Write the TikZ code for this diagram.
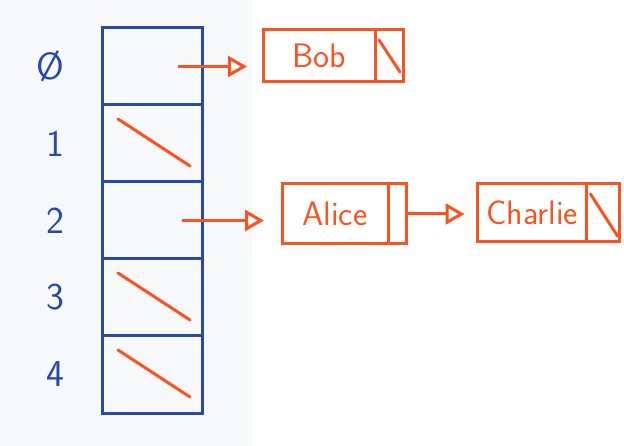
\documentclass[tikz,border=0pt]{standalone}
\usepackage{tikz}
\usetikzlibrary{positioning}
\usetikzlibrary{arrows.meta}
\usepackage{xcolor}

\definecolor{inkblue}{RGB}{40,72,170}
\definecolor{inkred}{RGB}{250,82,32}
\definecolor{panel}{RGB}{247,248,250}

\tikzset{
  cell/.style={draw=inkblue, line width=3pt, minimum width=100pt, minimum height=77pt, inner sep=0pt, outer sep=0pt},
  idx/.style={text=inkblue, font=\sffamily\fontsize{38}{38}\selectfont},
  item/.style={draw=inkred, line width=3pt, inner sep=0pt, outer sep=0pt, text=inkred, font=\sffamily\fontsize{34}{34}\selectfont},
  ptr/.style={draw=inkred, line width=3pt, inner sep=0pt, outer sep=0pt},
  link/.style={draw=inkred, line width=3pt, -{Triangle[open, length=19pt, width=21pt]}},
  nil/.style={draw=inkred, line width=3pt, line cap=round}
}

\begin{document}
\begin{tikzpicture}[x=1pt, y=-1pt]
  \useasboundingbox (0,0) rectangle (624,446);
  \fill[panel] (0,0) rectangle (252,446);

  % the table: five buckets with their indices
  \foreach \i/\y in {0/66.5, 1/143.5, 2/220.5, 3/297.5, 4/374.5} {
    \node[cell] (c\i) at (152,\y) {};
  }
  \node[idx, left=34pt of c0] (i0) {Ø};
  \foreach \i in {1,...,4} {
    \node[idx, left=34pt of c\i] (i\i) {\i};
  }

  % empty buckets
  \foreach \i in {1,3,4} {
    \draw[nil] ([shift={(16,14)}]c\i.north west) -- ([shift={(-12,-16)}]c\i.south east);
  }

  % chain of bucket 0
  \node[item, minimum width=112pt, minimum height=52pt] (bob) at (319,56) {Bob};
  \node[ptr, minimum width=28pt, minimum height=52pt, right=0pt of bob] (bobp) {};
  \draw[nil] ([shift={(4,10)}]bobp.north west) -- ([shift={(-3,-10)}]bobp.south east);

  % chain of bucket 2
  \node[item, minimum width=106pt, minimum height=60pt] (alice) at (335,214) {Alice};
  \node[ptr, minimum width=18pt, minimum height=60pt, right=0pt of alice] (alicep) {};
  \node[item, minimum width=109pt, minimum height=58pt] (charlie) at (532,213) {Charlie};
  \node[ptr, minimum width=33pt, minimum height=58pt, right=0pt of charlie] (charliep) {};
  \draw[nil] ([shift={(4,10)}]charliep.north west) -- ([shift={(-2,-6)}]charliep.south east);

  % pointers
  \draw[link, shorten >=16pt] ([xshift=26pt]c0.center) -- (c0.center -| bob.west);
  \draw[link, shorten >=18pt] ([xshift=30pt]c2.center) -- (c2.center -| alice.west);
  \draw[link, shorten >=13pt] (alicep.east) -- (alicep.east -| charlie.west);
\end{tikzpicture}
\end{document}
